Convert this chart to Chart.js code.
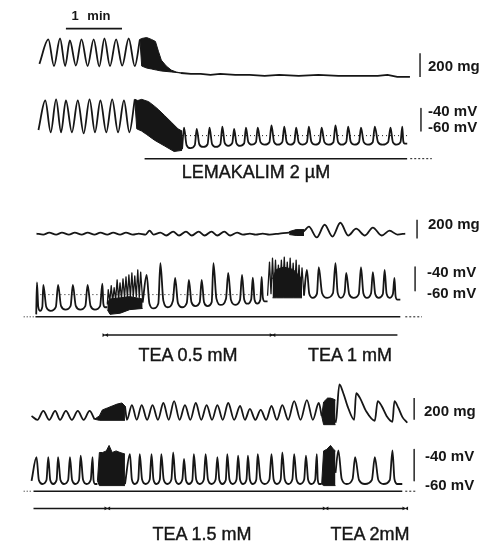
<!DOCTYPE html>
<html>
<head>
<meta charset="utf-8">
<title>Lemakalim / TEA recordings</title>
<script src="https://cdn.jsdelivr.net/npm/chart.js@4.4.1/dist/chart.umd.min.js"></script>
<style>
  html, body { margin: 0; padding: 0; background: #fff; }
  #fig { position: relative; width: 485px; height: 543px; overflow: hidden; }
  #fig canvas { position: absolute; left: 0; top: 0; }
  .lab { position: absolute; font-family: "Liberation Sans", Arial, sans-serif; color: #161616;
         line-height: 1; white-space: nowrap; transform: translate(0, -50%); }
  .mid { transform: translate(-50%, -50%); }
  .big { font-size: 18px; -webkit-text-stroke: 0.4px #161616; }
  .cal { font-size: 15px; font-weight: bold; }
</style>
</head>
<body>
<div id="fig">
  <canvas id="traces" width="485" height="543"></canvas>
  <div class="lab mid cal" style="left:91px;top:15px;font-size:13px;word-spacing:5px">1 min</div>
  <div class="lab cal" style="left:428px;top:65px">200 mg</div>
  <div class="lab cal" style="left:428px;top:110px">-40 mV</div>
  <div class="lab cal" style="left:428px;top:126px">-60 mV</div>
  <div class="lab mid big" style="left:256px;top:172px">LEMAKALIM 2 µM</div>
  <div class="lab cal" style="left:428px;top:223px">200 mg</div>
  <div class="lab cal" style="left:427px;top:271px">-40 mV</div>
  <div class="lab cal" style="left:427px;top:292px">-60 mV</div>
  <div class="lab mid big" style="left:188px;top:355px">TEA 0.5 mM</div>
  <div class="lab mid big" style="left:350px;top:355px">TEA 1 mM</div>
  <div class="lab cal" style="left:424px;top:410px">200 mg</div>
  <div class="lab cal" style="left:425px;top:455px">-40 mV</div>
  <div class="lab cal" style="left:425px;top:484px">-60 mV</div>
  <div class="lab mid big" style="left:202px;top:534px">TEA 1.5 mM</div>
  <div class="lab mid big" style="left:370px;top:534px">TEA 2mM</div>
</div>
<script>
// x: time in s, shared by the three recordings; y: tension (mg) or membrane potential (mV)

// ---------- recording 1: lemakalim 2 µM ----------
const lemTensT  = [8.4, 18, 24, 30.5, 36, 41, 47.5, 53.5, 60, 66.5, 72.5, 78, 84, 90.5, 97, 104, 110.5, 116];
const lemTensMg = [110, 317, 92, 325, 92, 308, 96, 317, 92, 317, 88, 325, 92, 317, 96, 325, 92, 317];
const lemTensBurstTopT  = [116, 117.9, 123.2, 128.4, 132.6, 135.8, 138.9, 144.2, 149.5, 154.7, 160];
const lemTensBurstTopMg = [317, 325, 333, 317, 300, 217, 142, 92, 58, 42, 33];
const lemTensBurstBotT  = [116, 117.9, 123.2, 128.4, 133.7, 138.9, 149.5, 160];
const lemTensBurstBotMg = [317, 92, 75, 67, 58, 50, 42, 33];
const lemRestT  = [160, 170.5, 181, 191.5, 202, 218, 233.5, 249.5, 265, 286, 307, 328.5, 349.5, 370.5, 381, 391.5, 405];
const lemRestMg = [33, 25, 25, 17, 25, 17, 17, 8, 17, 8, 17, 8, 8, 8, 17, 0, 0];

const lemVmT  = [7.4, 14.7, 20.5, 26.3, 31.6, 36.8, 43.2, 49.5, 55.8, 62.1, 67.9, 73.7, 80, 86.3, 92.6, 98.9, 104.7, 110.5];
const lemVmMv = [-59, -33, -61, -32, -61, -33, -61, -33, -62, -32, -61, -33, -61, -32, -61, -33, -61, -32];
const lemVmBurstTopT  = [110.5, 113.7, 117.9, 125.3, 131.6, 135.8, 142.1, 149.5, 156.8, 161.1];
const lemVmBurstTopMv = [-32, -33, -32, -34, -38, -41, -46, -52, -58, -60];
const lemVmBurstBotT  = [110.5, 112.6, 117.9, 123.2, 131.6, 142.1, 152.6, 161.1];
const lemVmBurstBotMv = [-32, -58, -60, -63, -68, -73, -78, -77];
const lemSpikeT  = [163.2, 176.8, 190.5, 204.2, 216.8, 229.5, 242.1, 256.8, 270.5, 283.2, 296.8, 310.5, 325.3, 338.9, 352.6, 367.4, 384.2, 396.8];
const lemSpikeMv = [-57, -58, -57, -56, -58, -57, -57, -55, -56, -57, -56, -57, -55, -56, -57, -56, -57, -56];
const lemTroughMv = [-75, -74, -74, -73, -73, -72, -72, -72, -72, -72, -72, -72, -72, -72, -72, -72, -72, -71];
const lemRefT = [156.8, 404.2];
const lemRefMv = -64;
const lemakalimOn = [121, 402];
const oneMinute = [36.8, 96.8];

// ---------- recording 2: TEA 0.5 and 1 mM ----------
const tea1TensT  = [5.3, 12.6, 18.9, 26.3, 32.6, 40, 46.3, 53.7, 60, 67.4, 73.7, 81.1, 87.4, 94.7, 101.1, 108.4, 114.7, 122.1, 126.3, 130.5, 137.9, 144.2, 151.6, 157.9, 165.3, 171.6, 178.9, 185.3, 192.6, 198.9, 206.3, 212.6, 220, 226.3, 233.7, 240, 247.4, 254.7, 265.3, 275.8, 283.2, 290.5, 296.8, 305.3, 313.7, 322.1, 330.5, 338.9, 347.4, 356.8, 365.3, 374.7, 383.2, 391.6, 400];
const tea1TensMg = [53, 42, 63, 42, 63, 42, 63, 42, 63, 42, 63, 42, 63, 42, 63, 42, 53, 42, 84, 42, 63, 32, 74, 32, 74, 32, 74, 32, 74, 32, 74, 32, 63, 42, 53, 42, 53, 42, 53, 63, 74, 74, 126, 11, 147, 21, 168, 32, 105, 32, 116, 32, 84, 42, 53];
const tea1TensThickT = [275.8, 283.2, 291.6];
const tea1TensThickTopMg = [74, 95, 95];
const tea1TensThickBotMg = [42, 32, 32];

const tea1SpikeAT  = [5.8, 12.6, 28.4, 44.2, 60, 75.8];
const tea1SpikeAMv = [-53, -55, -55, -55, -55, -54];
const tea1TroughAMv = [-77, -77, -76, -76, -76, -74];
const tea1BurstAT  = [81.1, 82.1, 83.7, 85.3, 86.8, 88.4, 90, 91.6, 93.2, 94.7, 96.3, 97.9, 99.5, 101.1, 102.6, 104.2, 105.8, 107.4, 108.9, 110.5, 112.1, 113.7, 115.3, 116.8, 118.9];
const tea1BurstAMv = [-71.7, -59.2, -69.2, -55.8, -69.2, -57.5, -67.5, -50.8, -67.5, -53.3, -66.7, -50, -65.8, -48.3, -65.8, -46.7, -65, -45, -65, -47.5, -65, -42.5, -65.8, -44.2, -67.5];
const tea1BaseAT = [81.1, 84, 95, 105, 118.9];
const tea1BaseATopMv = [-70, -67, -66, -65, -67];
const tea1BaseABotMv = [-76, -80, -79, -76, -75];
const tea1SpikeBT  = [123.2, 137.9, 153.7, 168.4, 182.1, 194.7, 210.5, 225.3, 236.8, 246.3];
const tea1SpikeBMv = [-46.7, -36.7, -49.2, -50.8, -50.8, -36.7, -45, -46.7, -49, -48.3];
const tea1TroughBMv = [-75, -74, -74, -73, -73, -72, -72, -71, -71, -69];
const tea1BurstBT  = [252.6, 254.7, 256.3, 257.9, 259.5, 261.1, 262.6, 264.2, 265.8, 267.4, 268.9, 270.5, 272.1, 273.7, 275.3, 276.8, 278.4, 280, 281.6, 283.2, 284.7, 286.3, 287.9, 289.5, 291.6];
const tea1BurstBMv = [-64.2, -35.8, -62.5, -32.5, -60.8, -34.2, -59.2, -38.3, -57.5, -34.2, -57.5, -31.7, -57.5, -35.8, -57.5, -32.5, -57.5, -36.7, -59.2, -34.2, -59.2, -38.3, -60.8, -40.8, -64.2];
const tea1BaseBT = [257.9, 262, 270, 280, 289.5];
const tea1BaseBTopMv = [-50, -42, -40, -42, -50];
const tea1BaseBBotMv = [-66, -66, -66, -66, -66];
const tea1SpikeCT  = [294.7, 307.4, 325.3, 336.8, 352.6, 365.3, 377.9, 388.4];
const tea1SpikeCMv = [-42.5, -40, -36.7, -45, -40, -44.2, -42.5, -49.2];
const tea1TroughCMv = [-66, -66, -66, -66, -66, -66, -66, -67.5];
const tea1RefT = [9.5, 246.3];
const tea1RefMv = -63.3;
const tea05On = [78.9, 257.9];
const tea1On = [257.9, 391.6];
const rec2Span = [4.2, 394.7];

// ---------- recording 3: TEA 1.5 and 2 mM ----------
const tea2TensAT  = [0, 6.3, 12.6, 18.9, 25.3, 30.5, 36.8, 43.2, 49.5, 55.8, 62.1, 67.4];
const tea2TensAMg = [36, 0, 82, 0, 82, 0, 82, 0, 82, 0, 82, 5];
const tea2TensBurstATopT  = [67.4, 72.6, 75.8, 81.1, 86.3, 91.6, 96.8, 100];
const tea2TensBurstATopMg = [5, 36, 91, 109, 127, 145, 155, 127];
const tea2TensBurstABotT  = [67.4, 72.6, 100];
const tea2TensBurstABotMg = [5, -5, -5];
const tea2TensBT  = [100, 102.1, 107.4, 112.6, 117.9, 123.7, 129.5, 135.3, 141.1, 146.8, 152.6, 158.4, 164.2, 170, 175.8, 181.6, 187.4, 193.2, 198.9, 204.7, 210.5, 216.8, 223.2, 228.4, 233.7, 239.5, 245.3, 251.1, 256.8, 262.6, 268.4, 274.7, 281.1, 287.9, 294.7, 301.1, 307.4, 310.5];
const tea2TensBMg = [127, 0, 136, 0, 136, 0, 136, 0, 155, 0, 173, 0, 136, 0, 155, 0, 136, 0, 136, 0, 155, 0, 127, 0, 100, 0, 91, 0, 127, 0, 136, 0, 173, 0, 182, 0, 155, 36];
const tea2TensBurstBTopT  = [310.5, 312.6, 316.8, 320, 323.2, 325.3];
const tea2TensBurstBTopMg = [36, 164, 200, 200, 191, 182];
const tea2TensBurstBBotT  = [310.5, 312.6, 325.3];
const tea2TensBurstBBotMg = [36, -45, -45];
const tea2TensCT  = [325.3, 326.3, 329.5, 333.7, 338.9, 345.3, 347.4, 351.6, 357.9, 367.4, 370.5, 374.7, 380, 386.3, 388.4, 392.6, 396.8, 402.1];
const tea2TensCMg = [-27, 18, 327, 245, 109, 0, 245, 200, 82, -9, 173, 127, 36, -18, 173, 109, 27, -27];

const tea2SpikeAT  = [5.3, 17.9, 28.4, 41.1, 52.6, 65.3];
const tea2SpikeAMv = [-45, -45, -45, -45, -44, -45];
const tea2TroughAMv = [-62, -62, -62, -62, -62, -62];
const tea2BurstATopT  = [70.5, 72.6, 76, 80, 83, 86.3, 90.5, 94.7, 100];
const tea2BurstATopMv = [-60, -42, -42, -41, -37.5, -42, -41, -42, -43];
const tea2BurstABotT  = [70.5, 72.6, 100];
const tea2BurstABotMv = [-60, -63, -63];
const tea2SpikeBT  = [105.3, 115.8, 128.4, 138.9, 151.6, 163.2, 173.7, 186.3, 198.9, 209.5, 221.1, 231.6, 242.1, 256.8, 268.4, 281.1, 293.7, 305.3];
const tea2SpikeBMv = [-43, -43, -43, -43, -42, -46, -43, -43, -45, -43, -44, -44, -43, -43, -42, -43, -44, -43];
const tea2TroughBMv = [-62, -62, -62, -62, -62, -62, -62, -62, -62, -62, -62, -62, -62, -62, -62, -62, -62, -62];
const tea2BurstBTopT  = [310.5, 312.6, 316, 320, 323.2, 325.3];
const tea2BurstBTopMv = [-62, -41, -40, -37.5, -40, -41];
const tea2BurstBBotT  = [310.5, 312.6, 325.3];
const tea2BurstBBotMv = [-62, -63, -63];
const tea2SpikeCT  = [328.4, 346.3, 367.4, 386.3];
const tea2SpikeCMv = [-40.6, -45, -45, -40.6];
const tea2TroughCMv = [-62, -62, -62, -62];
const tea1ContOn = [2.1, 81.1];
const tea15On = [81.1, 314.7];
const tea2On = [314.7, 400];
const rec3Span = [2.1, 396.8];

// ---------- layout ----------
const W = 485, H = 543;
const PX0 = 28, SEC_PER_PX = 60 / 57;
const INK = '#161616';
const LW = 1.8;
const rows = { minBar: 25, lemBar: 157, base2: 317.5, tea2: 336, base3: 494.5, tea3: 512 };
const calX = { t1: 415.8, v1: 416.8, t2: 412.6, v2: 410.5, t3: 409.5, v3: 409.5 };

// axis whose value v1 sits at page row p1 and v2 at p2
function yAxis(v1, p1, v2, p2) {
  const k = (p2 - p1) / (v1 - v2);
  return { type: 'linear', display: false, max: v1 + p1 / k, min: v1 - (H - p1) / k };
}

const xy = (ts, vs) => ts.map((t, i) => ({ x: t, y: vs[i] }));
const flat = (span, y) => [{ x: span[0], y: y }, { x: span[1], y: y }];
const vbar = (t, a, b) => [{ x: t, y: a }, { x: t, y: b }];

// sharp spike on a rounded trough, one per listed peak
function spikeRun(start, peakT, peakV, troughV, endT) {
  const out = [{ x: start[0], y: start[1] }];
  peakT.forEach((t, i) => {
    const last = i === peakT.length - 1;
    const g = (last ? endT : peakT[i + 1]) - t;
    const lift = (peakV[i] - troughV[i]) * 0.15;
    out.push({ x: t, y: peakV[i] });
    out.push({ x: t + g * 0.2, y: troughV[i] + lift });
    out.push({ x: t + g * 0.5, y: troughV[i] });
    if (last) out.push({ x: endT, y: troughV[i] });
    else out.push({ x: t + g * 0.85, y: troughV[i] + lift });
  });
  return out;
}

const datasets = [];
function line(data, axis, extra) {
  datasets.push(Object.assign({
    data: data, yAxisID: axis, borderColor: INK, backgroundColor: INK,
    borderWidth: LW, pointRadius: 0, fill: false, cubicInterpolationMode: 'monotone'
  }, extra || {}));
}
const straight = { cubicInterpolationMode: 'default', tension: 0 };
function block(top, bot, axis) {
  line(top, axis, Object.assign({ fill: '+1', borderWidth: 1 }, straight));
  line(bot, axis, Object.assign({ borderWidth: 1 }, straight));
}

// recording 1
line(xy(lemTensT, lemTensMg), 'yT1');
block(xy(lemTensBurstTopT, lemTensBurstTopMg), xy(lemTensBurstBotT, lemTensBurstBotMg), 'yT1');
line(xy(lemRestT, lemRestMg), 'yT1', straight);
line(xy(lemVmT, lemVmMv), 'yV1');
block(xy(lemVmBurstTopT, lemVmBurstTopMv), xy(lemVmBurstBotT, lemVmBurstBotMv), 'yV1');
line(spikeRun([161.1, -76], lemSpikeT, lemSpikeMv, lemTroughMv, 402.1), 'yV1');
line(flat(lemRefT, lemRefMv), 'yV1', { borderWidth: 1, borderDash: [1, 3] });
line(flat(oneMinute, rows.minBar), 'yL', { borderWidth: 1.6 });
line(flat(lemakalimOn, rows.lemBar), 'yL', { borderWidth: 1.6 });
line(flat([405.3, 428.4], rows.lemBar), 'yL', { borderWidth: 1, borderDash: [2, 2] });
line(vbar(calX.t1, 0, 200), 'yT1', Object.assign({ borderWidth: 1.4 }, straight));
line(vbar(calX.v1, -40, -60), 'yV1', Object.assign({ borderWidth: 1.4 }, straight));

// recording 2
line(xy(tea1TensT, tea1TensMg), 'yT2');
block(xy(tea1TensThickT, tea1TensThickTopMg), xy(tea1TensThickT, tea1TensThickBotMg), 'yT2');
line(spikeRun([5.0, -80], tea1SpikeAT, tea1SpikeAMv, tea1TroughAMv, 81.1), 'yV2');
block(xy(tea1BaseAT, tea1BaseATopMv), xy(tea1BaseAT, tea1BaseABotMv), 'yV2');
line(xy(tea1BurstAT, tea1BurstAMv), 'yV2', Object.assign({ borderWidth: 1.3 }, straight));
line(spikeRun([118.9, -70], tea1SpikeBT, tea1SpikeBMv, tea1TroughBMv, 252.6), 'yV2');
block(xy(tea1BaseBT, tea1BaseBTopMv), xy(tea1BaseBT, tea1BaseBBotMv), 'yV2');
line(xy(tea1BurstBT, tea1BurstBMv), 'yV2', Object.assign({ borderWidth: 1.3 }, straight));
line(spikeRun([291.6, -64], tea1SpikeCT, tea1SpikeCMv, tea1TroughCMv, 394.7), 'yV2');
line(flat(tea1RefT, tea1RefMv), 'yV2', { borderWidth: 1, borderDash: [1, 3] });
line(flat(rec2Span, rows.base2), 'yL', { borderWidth: 1.6 });
line(flat([-8.4, 3.2], rows.base2), 'yL', { borderWidth: 1, borderDash: [1, 2] });
line(flat([400, 417.9], rows.base2), 'yL', { borderWidth: 1, borderDash: [2, 2] });
line(flat([tea05On[0], tea1On[1]], rows.tea2), 'yL', { borderWidth: 1.4 });
line(vbar(calX.t2, 0, 200), 'yT2', Object.assign({ borderWidth: 1.4 }, straight));
line(vbar(calX.v2, -40, -60), 'yV2', Object.assign({ borderWidth: 1.4 }, straight));

// recording 3
line(xy(tea2TensAT, tea2TensAMg), 'yT3');
block(xy(tea2TensBurstATopT, tea2TensBurstATopMg), xy(tea2TensBurstABotT, tea2TensBurstABotMg), 'yT3');
line(xy(tea2TensBT, tea2TensBMg), 'yT3');
block(xy(tea2TensBurstBTopT, tea2TensBurstBTopMg), xy(tea2TensBurstBBotT, tea2TensBurstBBotMg), 'yT3');
line(xy(tea2TensCT, tea2TensCMg), 'yT3');
line(spikeRun([0, -60], tea2SpikeAT, tea2SpikeAMv, tea2TroughAMv, 70.5), 'yV3');
block(xy(tea2BurstATopT, tea2BurstATopMv), xy(tea2BurstABotT, tea2BurstABotMv), 'yV3');
line(spikeRun([100, -62], tea2SpikeBT, tea2SpikeBMv, tea2TroughBMv, 310.5), 'yV3');
block(xy(tea2BurstBTopT, tea2BurstBTopMv), xy(tea2BurstBBotT, tea2BurstBBotMv), 'yV3');
line(spikeRun([325.3, -55], tea2SpikeCT, tea2SpikeCMv, tea2TroughCMv, 396.8), 'yV3');
line(flat(rec3Span, rows.base3), 'yL', { borderWidth: 1.6 });
line(flat([-8.4, 1.1], rows.base3), 'yL', { borderWidth: 1, borderDash: [1, 2] });
line(flat([400, 412.6], rows.base3), 'yL', { borderWidth: 1, borderDash: [2, 2] });
line(flat([tea1ContOn[0], tea2On[1]], rows.tea3), 'yL', { borderWidth: 1.4 });
line(vbar(calX.t3, 0, 200), 'yT3', Object.assign({ borderWidth: 1.4 }, straight));
line(vbar(calX.v3, -40, -60), 'yV3', Object.assign({ borderWidth: 1.4 }, straight));

// change-of-solution marks on the application bars
const marks = [];
const rot = [];
function bowtie(t, y) {
  marks.push({ x: t - 1.8, y: y }, { x: t + 1.8, y: y });
  rot.push(90, -90);
}
bowtie(tea05On[0], rows.tea2);
bowtie(tea1On[0], rows.tea2);
bowtie(tea15On[0], rows.tea3);
bowtie(tea2On[0], rows.tea3);
bowtie(tea2On[1], rows.tea3);
datasets.push({
  data: marks, yAxisID: 'yL', showLine: false, pointStyle: 'triangle',
  pointRadius: 2.2, pointRotation: rot, pointBackgroundColor: INK, pointBorderWidth: 0
});

new Chart(document.getElementById('traces').getContext('2d'), {
  type: 'line',
  data: { datasets: datasets },
  options: {
    responsive: false,
    animation: false,
    devicePixelRatio: 1,
    layout: { padding: 0 },
    elements: { line: { borderCapStyle: 'butt', borderJoinStyle: 'round' } },
    plugins: { legend: { display: false }, tooltip: { enabled: false } },
    scales: {
      x: { type: 'linear', display: false, min: -PX0 * SEC_PER_PX, max: (W - PX0) * SEC_PER_PX },
      yL: { type: 'linear', display: false, min: 0, max: H, reverse: true },
      yT1: yAxis(200, 50, 0, 74),
      yV1: yAxis(-40, 106, -60, 129),
      yT2: yAxis(200, 219, 0, 238),
      yV2: yAxis(-40, 267, -60, 291),
      yT3: yAxis(200, 400, 0, 422),
      yV3: yAxis(-40, 452, -60, 484)
    }
  }
});
</script>
</body>
</html>
